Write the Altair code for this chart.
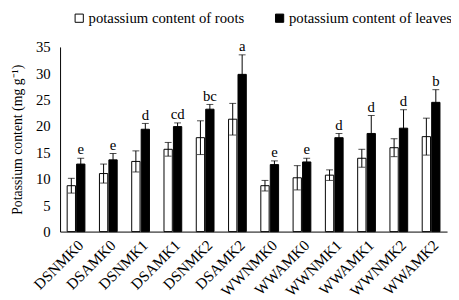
import altair as alt
import pandas as pd

categories = ["DSNMK0", "DSAMK0", "DSNMK1", "DSAMK1", "DSNMK2", "DSAMK2",
              "WWNMK0", "WWAMK0", "WWNMK1", "WWAMK1", "WWNMK2", "WWAMK2"]
roots = [8.7, 11.0, 13.3, 15.6, 17.8, 21.3, 8.7, 10.2, 10.7, 13.9, 15.9, 18.0]
roots_err = [1.4, 1.8, 2.0, 1.3, 3.2, 3.0, 1.0, 2.3, 1.0, 1.7, 1.7, 3.5]
leaves = [12.8, 13.6, 19.4, 19.9, 23.2, 29.8, 12.7, 13.2, 17.8, 18.6, 19.6, 24.5]
leaves_err = [1.1, 1.2, 1.1, 0.7, 0.9, 3.7, 0.7, 0.7, 0.8, 3.4, 3.5, 2.4]
letters = ["e", "e", "d", "cd", "bc", "a", "e", "e", "d", "d", "d", "b"]

S_ROOT = "potassium content of roots"
S_LEAF = "potassium content of leaves"

rows = []
for i, c in enumerate(categories):
    rows.append({"cat": c, "series": S_ROOT, "value": roots[i], "err": roots_err[i], "letter": ""})
    rows.append({"cat": c, "series": S_LEAF, "value": leaves[i], "err": leaves_err[i], "letter": letters[i]})
df = pd.DataFrame(rows)
df["lo"] = df["value"] - df["err"]
df["hi"] = df["value"] + df["err"]

FONT = "Liberation Serif"
YTITLE = "Potassium content (mg g\u207b\u00b9)"

yscale = alt.Scale(domain=[0, 35])
yaxis = alt.Axis(values=[0, 5, 10, 15, 20, 25, 30, 35], grid=False, ticks=False,
                 labelFontSize=15, labelFont=FONT, labelColor="black", labelOverlap=False,
                 titleFont=FONT, titleFontSize=14, titleFontWeight="normal",
                 titleColor="black", domainColor="black", labelPadding=10,
                 titlePadding=11)

x = alt.X("cat:N", sort=categories, title=None,
          scale=alt.Scale(paddingInner=0.45, paddingOuter=0.22),
          axis=alt.Axis(labelAngle=-45, labelFontSize=15.5, labelFont=FONT, labelColor="black",
                        ticks=False, domainColor="black", labelPadding=6))
xoff = alt.XOffset("series:N", sort=[S_ROOT, S_LEAF],
                   scale=alt.Scale(paddingInner=0.12))

base = alt.Chart(df).encode(x=x, xOffset=xoff)

bars = base.mark_bar(stroke="black", strokeWidth=1).encode(
    y=alt.Y("value:Q", scale=yscale, title=YTITLE, axis=yaxis),
    fill=alt.Fill("series:N", sort=[S_ROOT, S_LEAF],
                  scale=alt.Scale(domain=[S_ROOT, S_LEAF], range=["white", "black"]),
                  legend=alt.Legend(title=None, orient="none", direction="horizontal",
                                    legendX=12, legendY=-37, symbolType="square",
                                    symbolSize=70, symbolStrokeColor="black",
                                    symbolStrokeWidth=1, labelFont=FONT, labelFontSize=15,
                                    labelColor="black", columnPadding=28, labelOffset=2,
                                    labelLimit=300, padding=0)),
)

rule = base.mark_rule(color="black", strokeWidth=1).encode(
    y=alt.Y("lo:Q", scale=yscale, title=YTITLE, axis=yaxis), y2="hi:Q")
cap_hi = base.mark_tick(color="black", thickness=1, size=7).encode(
    y=alt.Y("hi:Q", scale=yscale, title=YTITLE, axis=yaxis))
cap_lo = base.mark_tick(color="black", thickness=1, size=7).encode(
    y=alt.Y("lo:Q", scale=yscale, title=YTITLE, axis=yaxis))
text = base.mark_text(font=FONT, fontSize=15, fill="black", color="black",
                      baseline="bottom", dy=-1).encode(
    y=alt.Y("hi:Q", scale=yscale, title=YTITLE, axis=yaxis), text="letter:N")

chart = alt.layer(bars, rule, cap_hi, cap_lo, text).properties(
    width=394, height=188,
    autosize=alt.AutoSizeParams(type="none"),
    padding={"left": 53, "top": 37, "right": 4, "bottom": 67},
).configure(background="white", font=FONT).configure_view(stroke=None)

chart.save("out.html", embed_options={"renderer": "svg", "actions": False})
